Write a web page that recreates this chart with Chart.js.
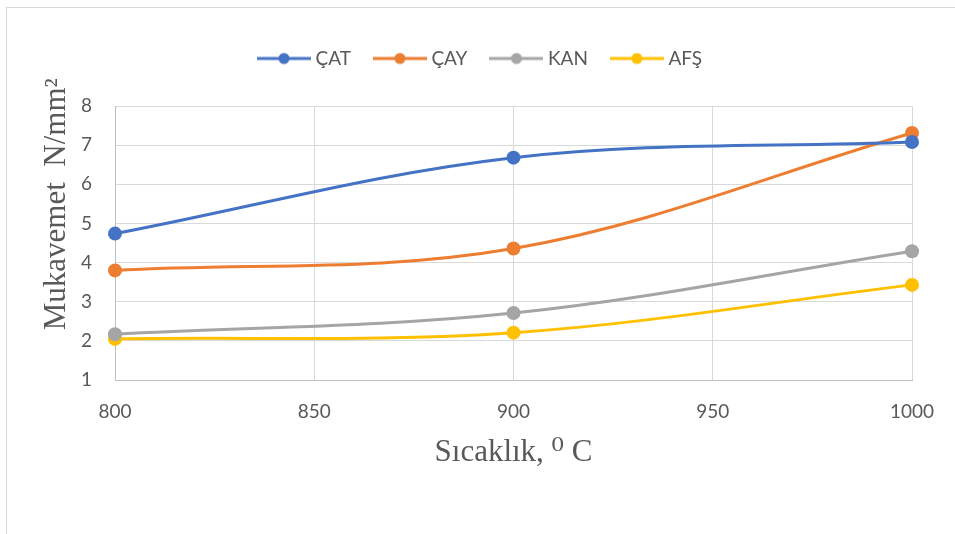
<!DOCTYPE html>
<html lang="tr">
<head>
  <meta charset="UTF-8" />
  <title>Mukavemet - Sıcaklık</title>
  <script src="https://cdn.jsdelivr.net/npm/chart.js"></script>
  <style>
    html, body { margin: 0; padding: 0; background: #fff; }
    .frame {
      position: absolute; left: 6px; top: 7px; width: 960px; height: 540px;
      border-left: 1px solid #d9d9d9; border-top: 1px solid #d9d9d9;
    }
    .wrap { position: absolute; left: 0; top: 0; width: 955px; height: 534px; }
  </style>
</head>
<body>

<div class="frame"></div>
<div class="wrap"><canvas id="grafik"></canvas></div>

<script>
// veri
const sicaklik = [800, 900, 1000];
const cat = [4.74, 6.68, 7.08];
const cay = [3.80, 4.36, 7.31];
const kan = [2.17, 2.71, 4.29];
const afs = [2.05, 2.21, 3.43];
const seriAdlari = ['ÇAT', 'ÇAY', 'KAN', 'AFŞ'];
const renkler = ['#4472C4', '#ED7D31', '#A5A5A5', '#FFC000'];

// legend icin cizgi + nokta isareti
function legendIsaret(renk) {
  const c = document.createElement('canvas');
  c.width = 54; c.height = 16;
  const g = c.getContext('2d');
  g.strokeStyle = renk; g.lineWidth = 3;
  g.beginPath(); g.moveTo(0, 8); g.lineTo(54, 8); g.stroke();
  g.fillStyle = renk;
  g.beginPath(); g.arc(27, 8, 5.5, 0, Math.PI * 2); g.fill();
  return c;
}

// legend ile grafik arasinda bosluk + biraz saga kaydir
const legendAyar = {
  id: 'legendAyar',
  beforeInit(chart) {
    const eskiFit = chart.legend.fit;
    chart.legend.fit = function () {
      eskiFit.call(this);
      this.height += 28;
    };
  },
  afterLayout(chart) {
    chart.legend.left += 26;
    chart.legend.right += 26;
  }
};

const seriler = [cat, cay, kan, afs].map((d, i) => ({
  label: seriAdlari[i],
  data: sicaklik.map((x, j) => ({ x: x, y: d[j] })),
  borderColor: renkler[i],
  backgroundColor: renkler[i],
  borderWidth: 3,
  pointRadius: 7,
  pointHoverRadius: 7,
  pointBorderWidth: 0,
  tension: 0.35,
  clip: false
}));

const gri = '#595959';

new Chart(document.getElementById('grafik'), {
  type: 'line',
  data: { datasets: seriler },
  plugins: [legendAyar],
  options: {
    responsive: true,
    maintainAspectRatio: false,
    animation: false,
    layout: { padding: { left: 0, right: 43, top: 22, bottom: 54 } },
    plugins: {
      tooltip: { enabled: false },
      legend: {
        position: 'top',
        labels: {
          usePointStyle: true,
          pointStyleWidth: 44,
          padding: 27,
          color: gri,
          font: { family: 'Lato', size: 19 },
          generateLabels: (chart) => chart.data.datasets.map((ds, i) => ({
            text: ds.label,
            fillStyle: ds.borderColor,
            strokeStyle: ds.borderColor,
            fontColor: gri,
            pointStyle: legendIsaret(ds.borderColor),
            datasetIndex: i,
            lineWidth: 0
          }))
        }
      }
    },
    scales: {
      x: {
        type: 'linear',
        min: 800, max: 1000,
        ticks: {
          stepSize: 50, color: gri, padding: 20, font: { family: 'Lato', size: 19 },
          callback: (v) => String(v)
        },
        grid: { color: '#d9d9d9', drawTicks: false, lineWidth: 1 },
        border: { color: '#bfbfbf', width: 1 },
        title: {
          display: true,
          text: 'Sıcaklık, \u2070 C',
          color: gri,
          font: { family: "'Liberation Serif', 'DejaVu Serif'", size: 31 },
          padding: { top: 0, bottom: 9 }
        },
        afterFit: (s) => { s.height = 100; }
      },
      y: {
        min: 1, max: 8,
        ticks: { stepSize: 1, color: gri, padding: 23, font: { family: 'Lato', size: 19 } },
        grid: { color: '#d9d9d9', drawTicks: false, lineWidth: 1 },
        border: { color: '#bfbfbf', width: 1 },
        title: {
          display: true,
          text: '\u2003\u2003\u2002Mukavemet  N/mm²',
          color: gri,
          font: { family: 'Liberation Serif', size: 31 },
          padding: { top: 38, bottom: 0 }
        },
        afterFit: (s) => { s.width = 115; }
      }
    }
  }
});
</script>

</body>
</html>
